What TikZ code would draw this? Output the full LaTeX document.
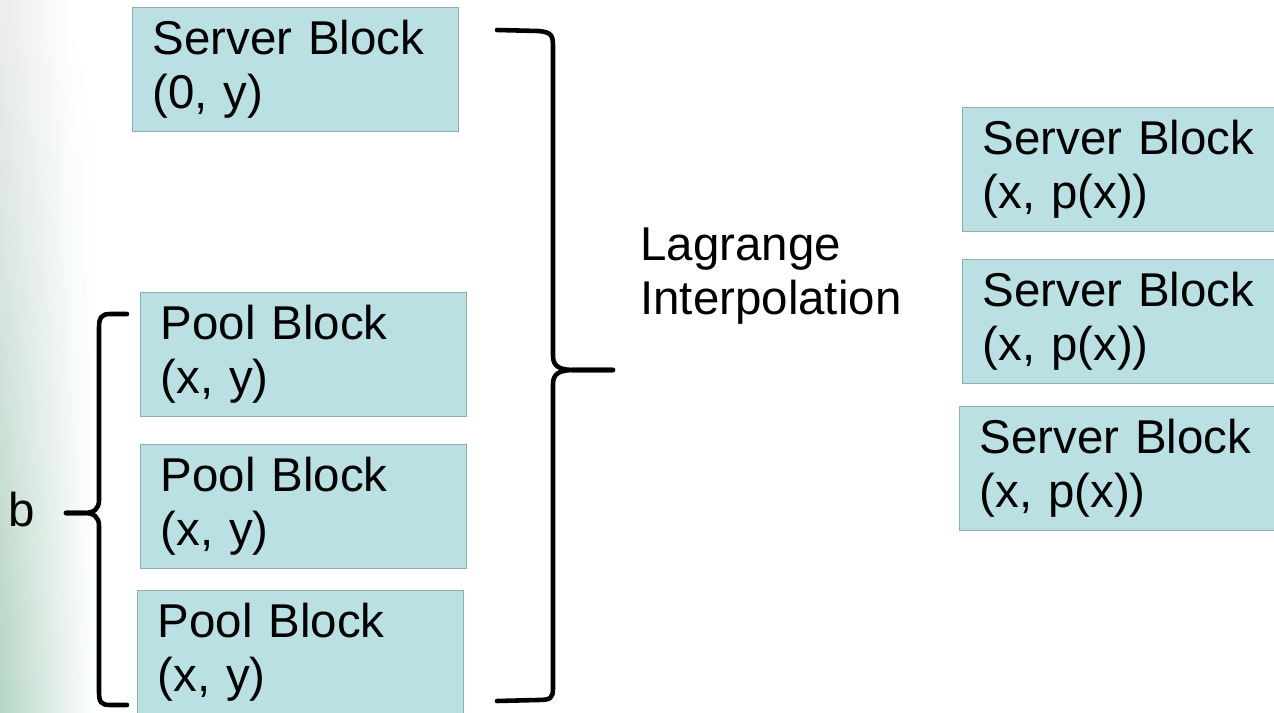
\documentclass[tikz,border=0pt]{standalone}
\usepackage{fontspec}
\setmainfont{Liberation Sans}
\usetikzlibrary{positioning, fadings}
\definecolor{blockfill}{HTML}{BBE0E3}
\definecolor{blockedge}{HTML}{8DAFB1}
\definecolor{specklecol}{HTML}{9CC9B3}

\begin{document}
\begin{tikzpicture}[
  x=0.2mm, y=-0.2mm,
  font=\fontsize{27}{30.7}\selectfont,
  blockbox/.style={draw=blockedge, fill=blockfill, line width=0.8pt,
                   anchor=north west, text width=5.72cm, align=left,
                   inner xsep=0.4cm, inner ysep=0pt, minimum height=2.48cm},
  bracestroke/.style={line width=2.6pt, line cap=round, line join=round},
  lbl/.style={inner sep=0pt, align=left}
]
\useasboundingbox (0,0) rectangle (1274,713);

%% -- speckled strip on the left edge ---------------------------------------
\shade[left color=gray!14, right color=white] (0,0) rectangle (70,713);
\shade[left color=specklecol!75, right color=white, path fading=north]
      (0,0) rectangle (95,713);

%% -- Left column : server share + pool shares -------------------------------
\node[blockbox] (srv0)  at (132,7)   {Server Block\\(0, y)};
\node[blockbox] (pool1) at (140,292) {Pool Block\\(x, y)};
\node[blockbox] (pool2) at (140,444) {Pool Block\\(x, y)};
\node[blockbox] (pool3) at (137,590) {Pool Block\\(x, y)};

%% -- Right column : new server shares ---------------------------------------
\node[blockbox] (srv1) at (962,107) {Server Block\\(x, p(x))};
\node[blockbox] (srv2) at (962,259) {Server Block\\(x, p(x))};
\node[blockbox] (srv3) at (959,406) {Server Block\\(x, p(x))};

%% -- Labels ------------------------------------------------------------------
\node[lbl, anchor=north west] (lagr) at (640,228) {Lagrange\\Interpolation};
\node[lbl, anchor=base] (bcount) at (21.5,527) {b};

%% -- Brace over the pool blocks ----------------------------------------------
\coordinate (ltip) at (66,513);
\draw[bracestroke] (127,314) -- (110,314) .. controls (101,314) and (99,318) .. (99,328)
      -- (99,500) .. controls (99,509) and (94,513) .. (84,513) -- (ltip);
\draw[bracestroke] (ltip) -- (84,513) .. controls (94,513) and (99,517) .. (99,526)
      -- (99,692) .. controls (99,702) and (101,705) .. (110,705) -- (127,705);

%% -- Brace over all input blocks ---------------------------------------------
\coordinate (rtip) at (613,370);
\draw[bracestroke] (497,30) -- (538,31) .. controls (551,32) and (553,35) .. (553,46)
      -- (553,356) .. controls (553,366) and (559,370) .. (574,370) -- (rtip);
\draw[bracestroke] (rtip) -- (574,370) .. controls (559,370) and (553,374) .. (553,384)
      -- (553,688) .. controls (553,698) and (551,700) .. (538,700) -- (497,701);

\end{tikzpicture}
\end{document}
